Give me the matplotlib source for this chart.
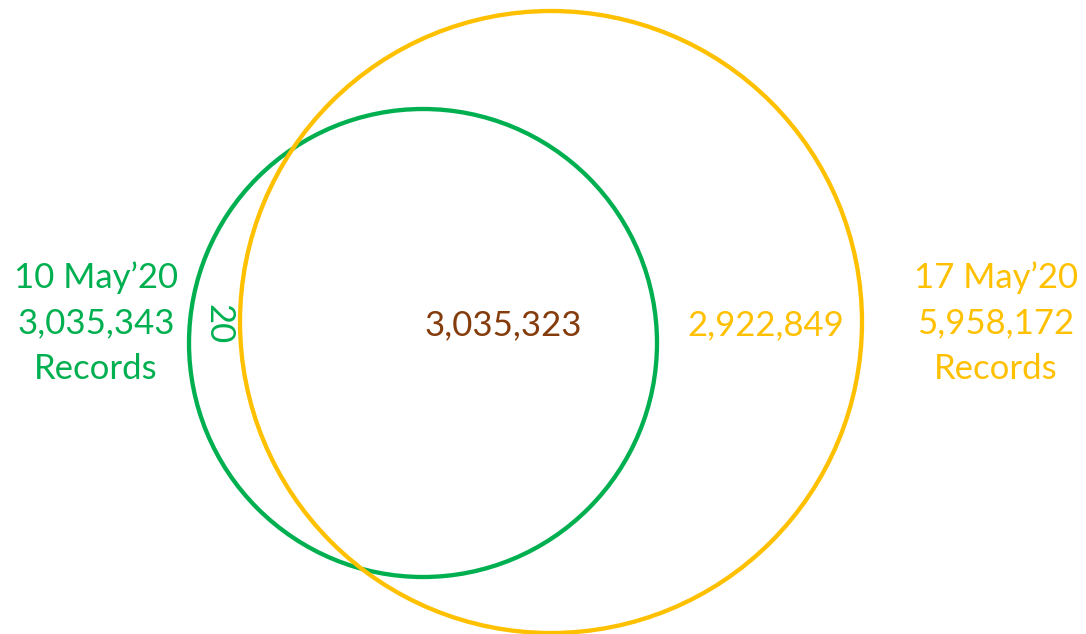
import matplotlib
matplotlib.use("Agg")
import matplotlib.pyplot as plt
import matplotlib.patches as pth

# data
sets = ["10 May'20", "17 May'20"]
totals = [3035343, 5958172]
only_first = 20
both = 3035323
only_second = 2922849

GREEN = "#00B050"
ORANGE = "#FFC000"
BROWN = "#843C0C"

plt.rcParams['font.family'] = ['Lato', 'DejaVu Sans']

W, H = 1086, 634
fig = plt.figure(figsize=(W / 100, H / 100), dpi=100)
ax = fig.add_axes([0, 0, 1, 1])
ax.set_xlim(0, W)
ax.set_ylim(H, 0)
ax.axis("off")

# circles (pixel geometry)
ax.add_patch(pth.Circle((423, 343), 234, fill=False, edgecolor=GREEN, linewidth=3.1))
ax.add_patch(pth.Circle((551, 322), 311, fill=False, edgecolor=ORANGE, linewidth=3.1))

fs = 25
ax.text(96, 323, f"{sets[0].replace(chr(39), '’')}\n{totals[0]:,}\nRecords", color=GREEN,
        fontsize=fs, ha="center", va="center", linespacing=1.52)
ax.text(996, 323, f"{sets[1].replace(chr(39), '’')}\n{totals[1]:,}\nRecords", color=ORANGE,
        fontsize=fs, ha="center", va="center", linespacing=1.52)
ax.text(218, 324, f"{only_first:,}", color=GREEN, fontsize=fs, rotation=-90,
        ha="center", va="center")
ax.text(503, 325, f"{both:,}", color=BROWN, fontsize=fs, ha="center", va="center")
ax.text(766, 325, f"{only_second:,}", color=ORANGE, fontsize=fs, ha="center", va="center")

fig.savefig("out.png", dpi=100)
